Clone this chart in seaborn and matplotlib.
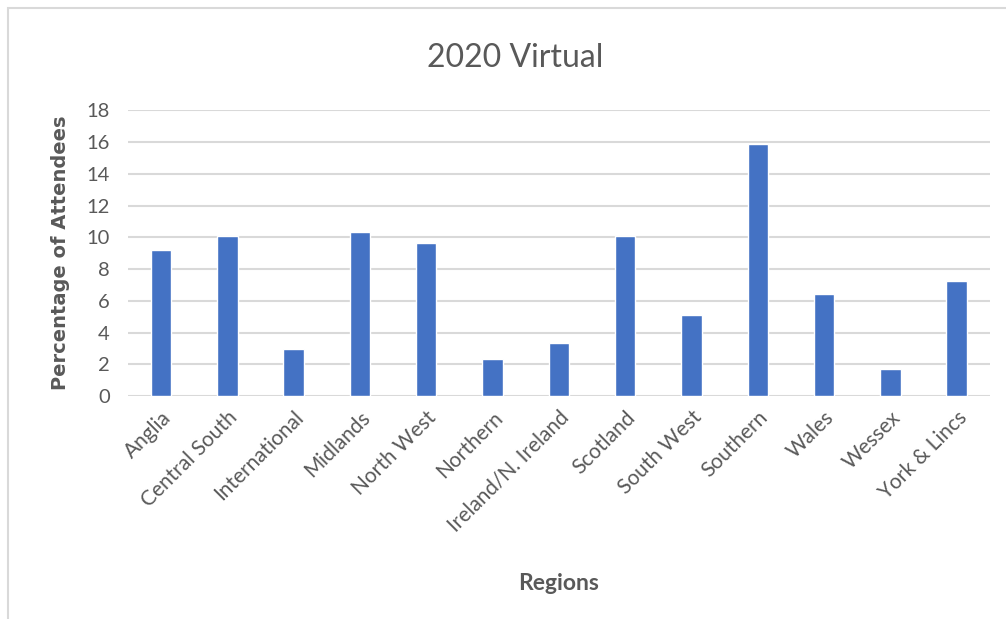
import matplotlib
matplotlib.use("Agg")
import matplotlib.pyplot as plt
import seaborn as sns
import pandas as pd
from matplotlib.patches import Rectangle

regions = ["Anglia", "Central South", "International", "Midlands", "North West",
           "Northern", "Ireland/N. Ireland", "Scotland", "South West", "Southern",
           "Wales", "Wessex", "York & Lincs"]
values = [9.18, 10.08, 2.98, 10.31, 9.66, 2.33, 3.36, 10.08, 5.13, 15.9, 6.45, 1.68, 7.25]
yticks = [0, 2, 4, 6, 8, 10, 12, 14, 16, 18]

df = pd.DataFrame({"Region": regions, "Value": values})

sns.set_theme(style="white")
plt.rcParams["font.family"] = ["Lato", "DejaVu Sans"]

fig = plt.figure(figsize=(10.06, 6.19), dpi=100)
ax = fig.add_axes([0.127, 0.36, 0.857, 0.462])

sns.barplot(data=df, x="Region", y="Value", color="#4472C4", width=0.31,
            saturation=1, ax=ax, zorder=3)

ax.set_ylim(0, 18)
ax.set_yticks(yticks)
ax.set_yticklabels([str(t) for t in yticks], fontsize=14.5, color="#595959")
ax.grid(axis="y", color="#d9d9d9", linewidth=1.5, zorder=0)
ax.set_axisbelow(True)
for s in ax.spines.values():
    s.set_visible(False)
ax.tick_params(axis="both", length=0)
ax.tick_params(axis="y", pad=13)
ax.set_xlim(-0.5, len(regions) - 0.5)
ax.set_xticks(range(len(regions)))
ax.set_xticklabels(regions, rotation=45, ha="right", rotation_mode="anchor",
                   fontsize=15, color="#595959")
ax.tick_params(axis="x", pad=8)

ax.set_xlabel("Regions", fontsize=16.5, fontweight="bold", color="#595959", labelpad=27)
ax.set_ylabel("Percentage of Attendees", fontsize=14, fontweight="bold",
              color="#595959", family=["DejaVu Sans"], labelpad=12)

fig.text(0.512, 0.907, "2020 Virtual", fontsize=23, color="#595959",
         ha="center", va="center")

fig.patches.append(Rectangle((8 / 1006, -0.1), 1.2, 1 - 8 / 619 + 0.1,
                             transform=fig.transFigure, fill=False,
                             edgecolor="#d9d9d9", linewidth=1.5))

fig.savefig("out.png", dpi=100)
